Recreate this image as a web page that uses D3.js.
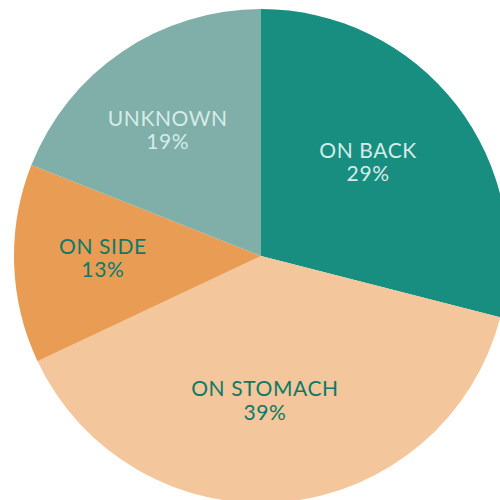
<!DOCTYPE html>
<html>
<head>
<meta charset="utf-8">
<script src="https://cdn.jsdelivr.net/npm/d3@7"></script>
<style>
  body { margin: 0; background: #fff; }
  svg { display: block; }
</style>
</head>
<body>
<svg width="500" height="500"></svg>
<script>
var categories = ["ON BACK", "ON STOMACH", "ON SIDE", "UNKNOWN"];
var values = [29, 39, 13, 19];
var colors = ["#178e80", "#f3c69b", "#e89c54", "#7fafa8"];
var textColors = ["#d4ece8", "#0d7a68", "#0d7a68", "#d4ece8"];

var data = categories.map(function(c, i) {
    return { label: c, value: values[i], color: colors[i], text: textColors[i] };
});

var svg = d3.select("svg"),
    radius = 247;

var g = svg.append("g")
    .attr("transform", "translate(" + 261 + "," + 256 + ")");

var pie = d3.pie().sort(null).value(function(d) { return d.value; });

var path = d3.arc().outerRadius(radius).innerRadius(0);
var label = d3.arc().outerRadius(radius * 0.6).innerRadius(radius * 0.6);

var arc = g.selectAll(".arc")
    .data(pie(data))
    .enter()
    .append("g")
    .attr("class", "arc");

arc.append("path")
    .attr("d", path)
    .attr("fill", function(d) { return d.data.color; });

var txt = arc.append("text")
    .attr("transform", function(d) {
        var c = label.centroid(d);
        return "translate(" + (c[0] - 10) + "," + (c[1] - 5) + ")";
    })
    .attr("text-anchor", "middle")
    .attr("font-family", "Lato, 'Open Sans', sans-serif")
    .attr("font-size", 21)
    .attr("letter-spacing", 0.6)
    .attr("fill", function(d) { return d.data.text; });

txt.append("tspan")
    .attr("x", 0)
    .attr("dy", "-0.1em")
    .text(function(d) { return d.data.label; });

txt.append("tspan")
    .attr("x", 0)
    .attr("dy", "1.1em")
    .text(function(d) { return d.data.value + "%"; });
</script>
</body>
</html>
